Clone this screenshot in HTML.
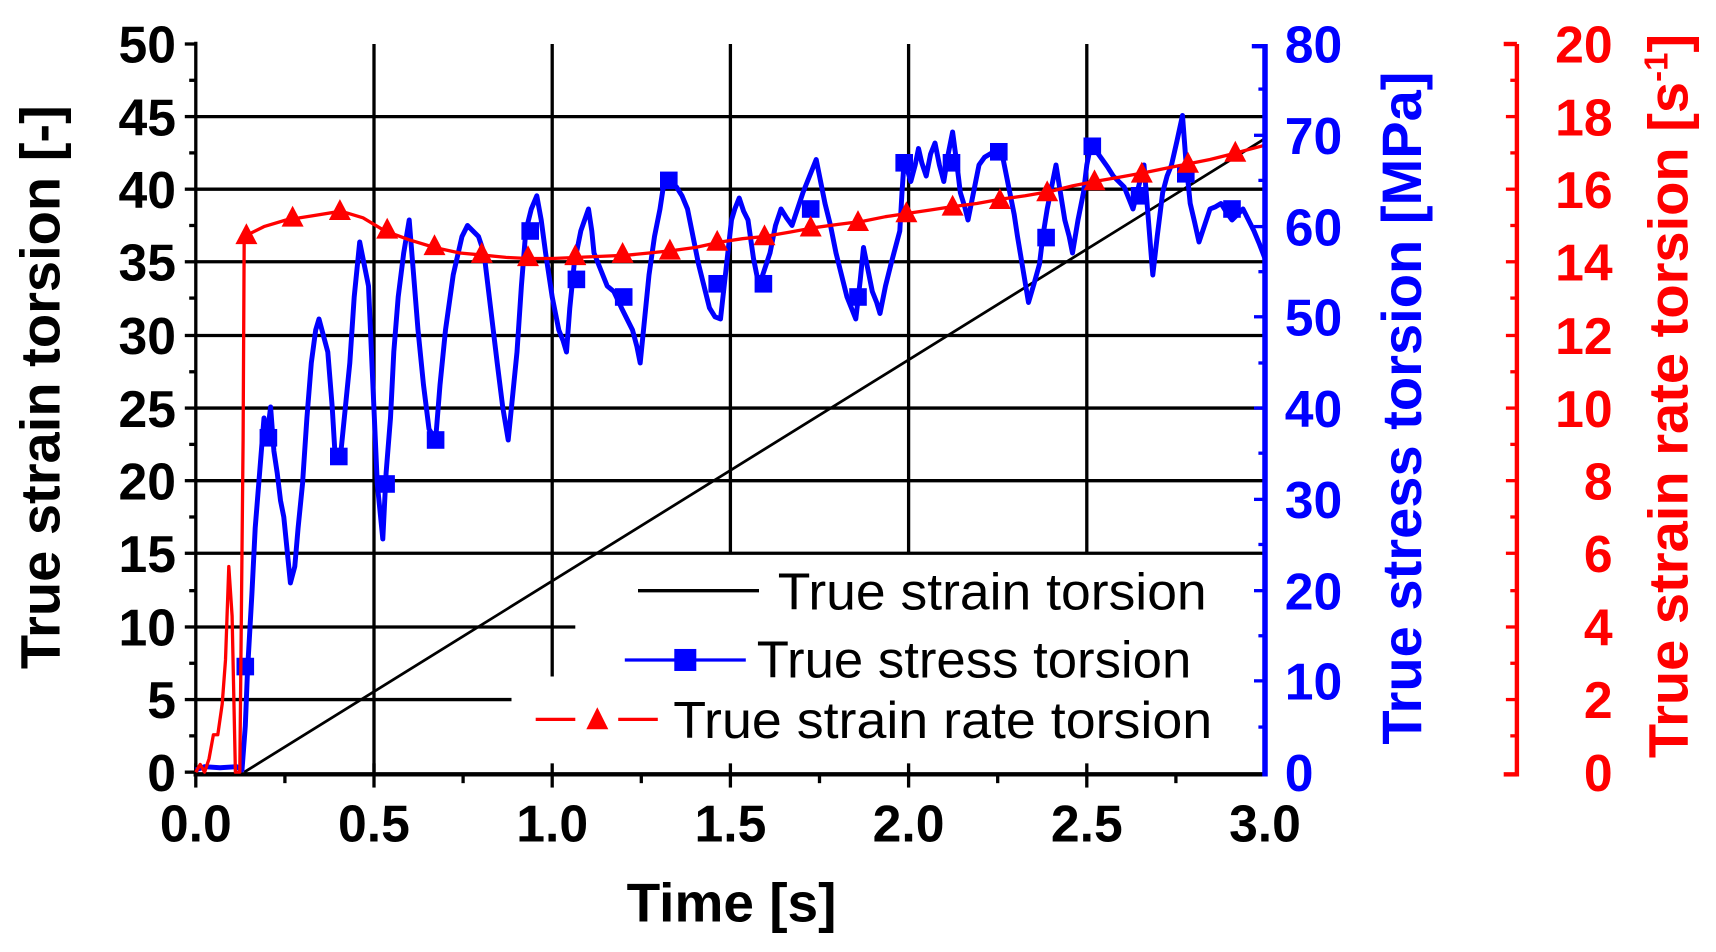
<!DOCTYPE html>
<html><head><meta charset="utf-8"><style>
html,body{margin:0;padding:0;background:#fff;}
svg{display:block;}
text{font-family:"Liberation Sans",Arial,sans-serif;}
.tk{font-weight:bold;font-size:47px;}
</style></head><body>
<svg width="1716" height="952" viewBox="0 0 1560 865.5" preserveAspectRatio="none" xmlns="http://www.w3.org/2000/svg">
<rect width="1560" height="866" fill="#fff"/>
<g stroke="#000" stroke-width="3">
<line x1="178" y1="106" x2="1150" y2="106"/>
<line x1="178" y1="172" x2="1150" y2="172"/>
<line x1="178" y1="238" x2="1150" y2="238"/>
<line x1="178" y1="305" x2="1150" y2="305"/>
<line x1="178" y1="371" x2="1150" y2="371"/>
<line x1="178" y1="437" x2="1150" y2="437"/>
<line x1="178" y1="503" x2="1150" y2="503"/>
<line x1="178" y1="570" x2="523" y2="570"/>
<line x1="178" y1="636" x2="465" y2="636"/>
<line x1="340" y1="40" x2="340" y2="702"/>
<line x1="502" y1="40" x2="502" y2="615"/>
<line x1="664" y1="40" x2="664" y2="503"/>
<line x1="826" y1="40" x2="826" y2="503"/>
<line x1="988" y1="40" x2="988" y2="503"/>
</g>
<g stroke="#000" stroke-width="3">
<line x1="178" y1="38" x2="178" y2="705"/>
<line x1="176" y1="704" x2="1150" y2="704" stroke-width="4"/>
<line x1="168" y1="40" x2="178" y2="40"/><line x1="168" y1="106" x2="178" y2="106"/><line x1="168" y1="172" x2="178" y2="172"/><line x1="168" y1="238" x2="178" y2="238"/><line x1="168" y1="305" x2="178" y2="305"/><line x1="168" y1="371" x2="178" y2="371"/><line x1="168" y1="437" x2="178" y2="437"/><line x1="168" y1="503" x2="178" y2="503"/><line x1="168" y1="570" x2="178" y2="570"/><line x1="168" y1="636" x2="178" y2="636"/><line x1="168" y1="702" x2="178" y2="702"/>
<line x1="172" y1="73" x2="178" y2="73"/><line x1="172" y1="139" x2="178" y2="139"/><line x1="172" y1="205" x2="178" y2="205"/><line x1="172" y1="271" x2="178" y2="271"/><line x1="172" y1="338" x2="178" y2="338"/><line x1="172" y1="404" x2="178" y2="404"/><line x1="172" y1="470" x2="178" y2="470"/><line x1="172" y1="537" x2="178" y2="537"/><line x1="172" y1="603" x2="178" y2="603"/><line x1="172" y1="669" x2="178" y2="669"/>
<line x1="178" y1="694" x2="178" y2="716"/><line x1="340" y1="694" x2="340" y2="716"/><line x1="502" y1="694" x2="502" y2="716"/><line x1="664" y1="694" x2="664" y2="716"/><line x1="826" y1="694" x2="826" y2="716"/><line x1="988" y1="694" x2="988" y2="716"/>
<line x1="259" y1="704" x2="259" y2="712"/><line x1="421" y1="704" x2="421" y2="712"/><line x1="583" y1="704" x2="583" y2="712"/><line x1="745" y1="704" x2="745" y2="712"/><line x1="907" y1="704" x2="907" y2="712"/><line x1="1069" y1="704" x2="1069" y2="712"/>
</g>
<g font-size="47">
<line x1="580" y1="537" x2="690" y2="537" stroke="#000" stroke-width="3"/>
<text x="707" y="554" textLength="390" lengthAdjust="spacingAndGlyphs">True strain torsion</text>
<line x1="568" y1="600" x2="678" y2="600" stroke="#00f" stroke-width="3"/>
<rect x="613" y="590" width="20" height="20" fill="#00f"/>
<text x="688" y="616" textLength="395" lengthAdjust="spacingAndGlyphs">True stress torsion</text>
<line x1="487" y1="654" x2="523" y2="654" stroke="#f00" stroke-width="3"/>
<line x1="562" y1="654" x2="598" y2="654" stroke="#f00" stroke-width="3"/>
<polygon points="533,663 553,663 543,643" fill="#f00"/>
<text x="612" y="671" textLength="490" lengthAdjust="spacingAndGlyphs">True strain rate torsion</text>
</g>
<line x1="222" y1="702" x2="1150" y2="126" stroke="#000" stroke-width="2.5"/>
<polyline fill="none" stroke="#00f" stroke-width="4.5" stroke-linejoin="round" points="178,700 186,697 200,698 215,697 220,700 223,660 225,610 229,540 232,480 236,430 240,380 243,395 246,370 249,410 252,430 255,455 258,470 261,500 264,530 268,515 271,480 275,440 279,380 283,330 287,300 290,290 294,305 298,320 302,370 305,420 310,410 314,370 318,330 322,270 327,220 331,240 335,260 339,350 343,440 348,490 351,430 355,380 358,320 362,270 367,230 372,200 376,250 380,300 385,350 390,390 396,400 400,350 405,300 412,250 420,215 425,205 430,210 435,215 440,230 446,280 452,330 457,370 462,400 466,360 470,320 474,260 478,210 483,190 488,178 492,200 496,230 502,270 508,300 512,310 515,320 518,280 522,240 528,210 535,190 538,210 540,230 546,245 552,260 558,265 565,280 570,290 575,300 579,315 582,330 586,290 590,250 595,215 600,190 603,170 605,160 610,165 615,170 620,178 625,190 630,215 635,240 640,260 645,280 650,288 655,290 660,245 665,200 668,190 672,180 676,192 680,200 685,235 690,260 695,245 700,230 705,205 710,190 715,198 720,205 725,190 730,175 736,160 742,145 746,165 750,185 755,205 760,230 765,250 770,270 774,280 778,290 782,255 785,225 789,245 793,265 797,275 800,285 805,260 810,240 814,225 818,210 820,175 822,145 825,155 828,165 832,150 835,135 838,148 842,160 846,140 850,130 854,150 858,165 862,140 866,120 870,150 873,175 877,188 880,200 885,175 890,150 895,143 900,140 905,137 910,135 914,155 918,175 922,195 925,215 930,245 935,275 940,258 945,240 948,215 952,190 956,170 960,150 964,175 968,200 972,215 975,230 980,200 985,175 988,150 992,130 997,138 1002,145 1007,152 1012,160 1017,165 1022,170 1026,180 1030,190 1035,170 1040,150 1044,200 1048,250 1052,215 1057,175 1061,160 1065,150 1070,128 1075,105 1078,145 1082,185 1086,202 1090,220 1095,205 1100,190 1105,188 1110,185 1115,193 1120,200 1125,195 1130,190 1135,200 1140,210 1145,222 1150,235"/>
<g fill="#00f">
<rect x="215" y="598" width="16" height="16"/><rect x="236" y="390" width="16" height="16"/>
<rect x="300" y="407" width="16" height="16"/><rect x="343" y="432" width="16" height="16"/>
<rect x="388" y="392" width="16" height="16"/><rect x="474" y="202" width="16" height="16"/>
<rect x="516" y="246" width="16" height="16"/><rect x="559" y="262" width="16" height="16"/>
<rect x="600" y="156" width="16" height="16"/><rect x="644" y="250" width="16" height="16"/>
<rect x="686" y="250" width="16" height="16"/><rect x="729" y="182" width="16" height="16"/>
<rect x="772" y="262" width="16" height="16"/><rect x="814" y="140" width="16" height="16"/>
<rect x="857" y="140" width="16" height="16"/><rect x="900" y="130" width="16" height="16"/>
<rect x="943" y="208" width="16" height="16"/><rect x="985" y="125" width="16" height="16"/>
<rect x="1028" y="170" width="16" height="16"/><rect x="1070" y="150" width="16" height="16"/>
<rect x="1112" y="182" width="16" height="16"/>
</g>
<polyline fill="none" stroke="#f00" stroke-width="3" stroke-linejoin="round" points="178,702 182,695 186,702 190,690 194,668 198,668 202,640 205,600 208,515 211,560 214,702 218,702 221,400 222,215 240,206 260,200 285,196 310,192 330,198 350,210 372,218 395,225 418,230 440,232 460,234 480,235 502,235 525,234 548,233 570,232 590,230 610,228 632,225 655,220 675,217 695,215 718,211 740,207 762,204 785,201 805,197 825,194 845,191 865,188 888,185 910,181 932,178 955,174 975,169 995,165 1018,161 1040,157 1060,153 1080,149 1100,145 1120,140 1135,136 1150,132"/>
<g fill="#f00">
<polygon points="214,222 234,222 224,203"/><polygon points="256,206 276,206 266,187"/>
<polygon points="299,200 319,200 309,181"/><polygon points="342,217 362,217 352,198"/>
<polygon points="385,232 405,232 395,213"/><polygon points="428,239 448,239 438,220"/>
<polygon points="470,242 490,242 480,223"/><polygon points="513,241 533,241 523,222"/>
<polygon points="556,239 576,239 566,220"/><polygon points="599,236 619,236 609,217"/>
<polygon points="642,228 662,228 652,209"/><polygon points="685,223 705,223 695,204"/>
<polygon points="727,215 747,215 737,196"/><polygon points="770,210 790,210 780,191"/>
<polygon points="814,202 834,202 824,183"/><polygon points="856,196 876,196 866,177"/>
<polygon points="899,190 919,190 909,171"/><polygon points="942,183 962,183 952,164"/>
<polygon points="985,173 1005,173 995,154"/><polygon points="1028,166 1048,166 1038,147"/>
<polygon points="1070,157 1090,157 1080,138"/><polygon points="1113,147 1133,147 1123,128"/>
</g>
<g stroke="#00f" stroke-width="5">
<line x1="1150" y1="40" x2="1150" y2="706"/>
<line x1="1138" y1="42" x2="1150" y2="42" stroke-width="4"/>
</g>
<g stroke="#00f" stroke-width="3">
<line x1="1140" y1="123" x2="1150" y2="123"/><line x1="1140" y1="206" x2="1150" y2="206"/><line x1="1140" y1="288" x2="1150" y2="288"/><line x1="1140" y1="371" x2="1150" y2="371"/><line x1="1140" y1="454" x2="1150" y2="454"/><line x1="1140" y1="537" x2="1150" y2="537"/><line x1="1140" y1="619" x2="1150" y2="619"/>
<line x1="1144" y1="81" x2="1150" y2="81"/><line x1="1144" y1="164" x2="1150" y2="164"/><line x1="1144" y1="247" x2="1150" y2="247"/><line x1="1144" y1="330" x2="1150" y2="330"/><line x1="1144" y1="412" x2="1150" y2="412"/><line x1="1144" y1="495" x2="1150" y2="495"/><line x1="1144" y1="578" x2="1150" y2="578"/><line x1="1144" y1="661" x2="1150" y2="661"/>
</g>
<g stroke="#f00" stroke-width="4">
<line x1="1379" y1="40" x2="1379" y2="706"/>
<line x1="1367" y1="40" x2="1379" y2="40"/><line x1="1367" y1="704" x2="1379" y2="704"/>
</g>
<g stroke="#f00" stroke-width="3">
<line x1="1369" y1="106" x2="1379" y2="106"/><line x1="1369" y1="172" x2="1379" y2="172"/><line x1="1369" y1="238" x2="1379" y2="238"/><line x1="1369" y1="305" x2="1379" y2="305"/><line x1="1369" y1="371" x2="1379" y2="371"/><line x1="1369" y1="437" x2="1379" y2="437"/><line x1="1369" y1="503" x2="1379" y2="503"/><line x1="1369" y1="570" x2="1379" y2="570"/><line x1="1369" y1="636" x2="1379" y2="636"/>
<line x1="1373" y1="73" x2="1379" y2="73"/><line x1="1373" y1="139" x2="1379" y2="139"/><line x1="1373" y1="205" x2="1379" y2="205"/><line x1="1373" y1="271" x2="1379" y2="271"/><line x1="1373" y1="338" x2="1379" y2="338"/><line x1="1373" y1="404" x2="1379" y2="404"/><line x1="1373" y1="470" x2="1379" y2="470"/><line x1="1373" y1="537" x2="1379" y2="537"/><line x1="1373" y1="603" x2="1379" y2="603"/><line x1="1373" y1="669" x2="1379" y2="669"/>
</g>
<g class="tk" text-anchor="end" fill="#000">
<text x="160" y="57">50</text><text x="160" y="123">45</text><text x="160" y="189">40</text><text x="160" y="255">35</text><text x="160" y="322">30</text><text x="160" y="388">25</text><text x="160" y="454">20</text><text x="160" y="520">15</text><text x="160" y="587">10</text><text x="160" y="653">5</text><text x="160" y="719">0</text>
</g>
<g class="tk" text-anchor="middle" fill="#000">
<text x="178" y="765">0.0</text><text x="340" y="765">0.5</text><text x="502" y="765">1.0</text><text x="664" y="765">1.5</text><text x="826" y="765">2.0</text><text x="988" y="765">2.5</text><text x="1150" y="765">3.0</text>
</g>
<g class="tk" fill="#00f">
<text x="1168" y="57">80</text><text x="1168" y="140">70</text><text x="1168" y="223">60</text><text x="1168" y="305">50</text><text x="1168" y="388">40</text><text x="1168" y="471">30</text><text x="1168" y="554">20</text><text x="1168" y="636">10</text><text x="1168" y="719">0</text>
</g>
<g class="tk" fill="#f00" text-anchor="end">
<text x="1466" y="57">20</text><text x="1466" y="123">18</text><text x="1466" y="189">16</text><text x="1466" y="255">14</text><text x="1466" y="322">12</text><text x="1466" y="388">10</text><text x="1466" y="454">8</text><text x="1466" y="520">6</text><text x="1466" y="587">4</text><text x="1466" y="653">2</text><text x="1466" y="719">0</text>
</g>
<text x="665" y="838" text-anchor="middle" font-weight="bold" font-size="50" fill="#000">Time [s]</text>
<text transform="translate(54,352) rotate(-90)" text-anchor="middle" font-weight="bold" font-size="51" fill="#000">True strain torsion [-]</text>
<text transform="translate(1292,371) rotate(-90)" text-anchor="middle" font-weight="bold" font-size="51" fill="#00f">True stress torsion [MPa]</text>
<text transform="translate(1534,360) rotate(-90)" text-anchor="middle" font-weight="bold" font-size="51" fill="#f00">True strain rate torsion [s<tspan dy="-18" font-size="30">-1</tspan><tspan dy="18">]</tspan></text>
</svg>
</body></html>
